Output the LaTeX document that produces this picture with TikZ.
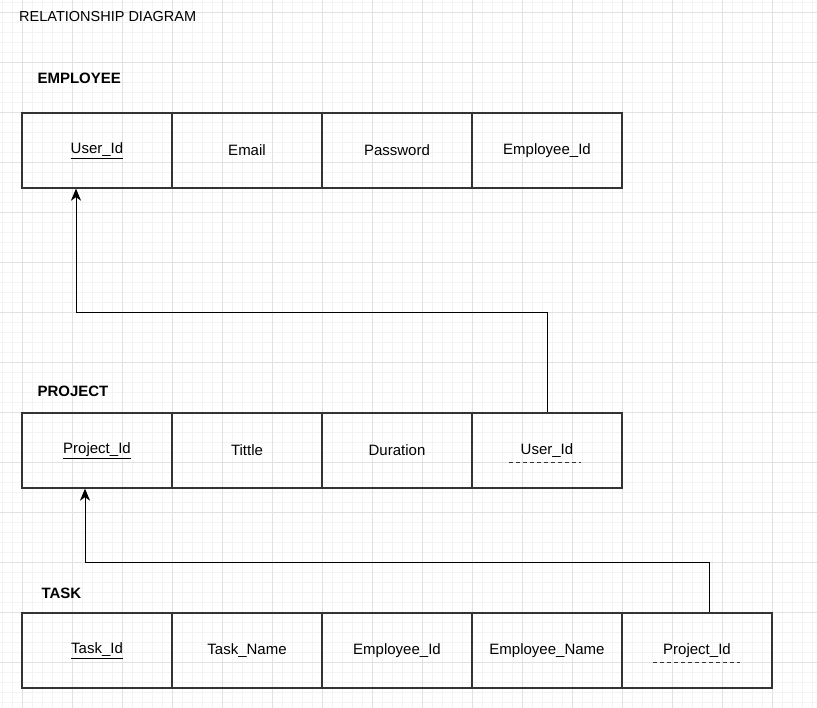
\documentclass[tikz,border=0pt]{standalone}
\usepackage{fontspec}
\setmainfont{Liberation Sans}
\usetikzlibrary{arrows.meta}
\definecolor{gridminor}{HTML}{F3F3F3}
\definecolor{gridmajor}{HTML}{E2E2E2}
\definecolor{cellgray}{HTML}{333333}

\tikzset{
  cell/.style={draw=cellgray, line width=1.3pt, minimum width=150pt, minimum height=75pt,
    inner sep=0pt, font=\fontsize{15}{18}\selectfont},
  tablename/.style={anchor=west, font=\fontsize{15}{18}\selectfont\bfseries},
  fklink/.style={-{Stealth[length=12pt,width=10pt,inset=3.5pt]}, line width=1pt, black},
  fkline/.style={dashed, line width=0.9pt, dash pattern=on 4pt off 3pt, cellgray}
}

\begin{document}
\begin{tikzpicture}[x=1pt, y=-1pt]
  \useasboundingbox (0,0) rectangle (817,708);
  \fill[white] (0,0) rectangle (817,708);
  % background grid
  \foreach \gx in {2.7,12.7,...,817} \draw[gridminor, line width=0.6pt] (\gx,0) -- (\gx,708);
  \foreach \gy in {2.7,12.7,...,708} \draw[gridminor, line width=0.6pt] (0,\gy) -- (817,\gy);
  \foreach \gx in {22.7,72.7,...,817} \draw[gridmajor, line width=0.6pt] (\gx,0) -- (\gx,708);
  \foreach \gy in {12.7,62.7,...,708} \draw[gridmajor, line width=0.6pt] (0,\gy) -- (817,\gy);

  \node[anchor=west, inner sep=0pt, font=\fontsize{14.5}{17}\selectfont] (title) at (19,17) {RELATIONSHIP DIAGRAM};

  % EMPLOYEE
  \node[tablename] (employee) at (34,78) {EMPLOYEE};
  \node[cell] (e1) at (97,150.5) {\underline{User\_Id}};
  \node[cell] (e2) at (247,150.5) {Email};
  \node[cell] (e3) at (397,150.5) {Password};
  \node[cell] (e4) at (547,150.5) {Employee\_Id};

  % PROJECT
  \node[tablename] (project) at (34,391) {PROJECT};
  \node[cell] (p1) at (97,450.5) {\underline{Project\_Id}};
  \node[cell] (p2) at (247,450.5) {Tittle};
  \node[cell] (p3) at (397,450.5) {Duration};
  \node[cell] (p4) at (547,450.5) {User\_Id};
  \draw[fkline] ([xshift=-38pt, yshift=-12pt]p4.center) -- ([xshift=34pt, yshift=-12pt]p4.center);

  % TASK
  \node[tablename] (task) at (38,593) {TASK};
  \node[cell] (t1) at (97,650.5) {\underline{Task\_Id}};
  \node[cell] (t2) at (247,650.5) {Task\_Name};
  \node[cell] (t3) at (397,650.5) {Employee\_Id};
  \node[cell] (t4) at (547,650.5) {Employee\_Name};
  \node[cell] (t5) at (697,650.5) {Project\_Id};
  \draw[fkline] ([xshift=-44pt, yshift=-12pt]t5.center) -- ([xshift=43pt, yshift=-12pt]t5.center);

  % foreign keys
  \draw[fklink] (p4.north) -- ++(0,-100) -| ([xshift=-21pt]e1.south);
  \draw[fklink] ([xshift=12pt]t5.north) -- ++(0,-50) -| ([xshift=-12pt]p1.south);
\end{tikzpicture}
\end{document}
